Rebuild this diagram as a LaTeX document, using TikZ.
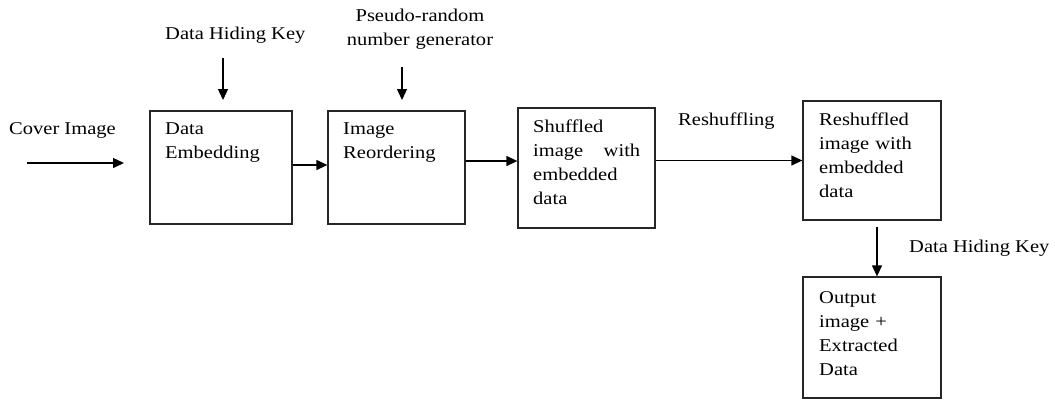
\documentclass[tikz,border=0pt]{standalone}
\usepackage{fontspec}
\setmainfont{Liberation Serif}[FakeStretch=1.14]
\usetikzlibrary{arrows.meta}
\begin{document}
\begin{tikzpicture}[x=1pt,y=-1pt,
  boxnode/.style={draw=black!85, line width=1.3pt, inner sep=0pt, rectangle},
  txt/.style={inner sep=0pt, font=\fontsize{18}{24}\selectfont, text=black},
  btxt/.style={txt, anchor=base west, align=left},
  arr/.style={line width=1.3pt, -{Triangle[length=11pt,width=10pt]}}]
\useasboundingbox (0,0) rectangle (1055,400);
% boxes
\node[boxnode, minimum width=142pt, minimum height=113pt] (b1) at (221,167.5) {};
\node[boxnode, minimum width=137pt, minimum height=113pt] (b2) at (396.5,167.5) {};
\node[boxnode, minimum width=137pt, minimum height=120pt] (b3) at (586.5,168) {};
\node[boxnode, minimum width=138pt, minimum height=119pt] (b4) at (872,160.5) {};
\node[boxnode, minimum width=138pt, minimum height=121pt] (b5) at (872,337.5) {};
% box texts
\node[btxt, text width=120pt] (t1) at (165,134) {Data\\Embedding};
\node[btxt, text width=120pt] (t2) at (343,134) {Image\\Reordering};
\node[btxt, text width=107pt] (t3) at (533,132) {Shuffled\\image\hfill with\\embedded\\data};
\node[btxt, text width=120pt] (t4) at (819,125) {Reshuffled\\image with\\embedded\\data};
\node[btxt, text width=120pt] (t5) at (819,303) {Output\\image +\\Extracted\\Data};
% labels
\node[txt, anchor=base west] (lcover) at (9,134) {Cover Image};
\node[txt, anchor=base west] (lkey1) at (165,39) {Data Hiding Key};
\node[txt, anchor=base, text width=170pt, align=center] (lprng) at (420,21) {Pseudo-random\\number generator};
\node[txt, anchor=base west] (lresh) at (678,125) {Reshuffling};
\node[txt, anchor=base west] (lkey2) at (909,252) {Data Hiding Key};
% free ends
\coordinate (cin) at (27,163);
\coordinate (cinend) at (124,163);
\coordinate (k1s) at (223,58);
\coordinate (k1e) at (223,100);
\coordinate (ps) at (402,67);
\coordinate (pe) at (402,100);
% connectors
\draw[arr] (cin) -- (cinend);
\draw[arr] (k1s) -- (k1e);
\draw[arr] (ps) -- (pe);
\draw[arr] (b1.east |- 0,165) -- (b2.west |- 0,165);
\draw[arr] (b2.east |- 0,161) -- (b3.west |- 0,161);
\draw[arr] (b3.east |- 0,160.5) -- (b4.west |- 0,160.5);
\draw[arr] ([yshift=-6pt]b4.south -| 877,0) -- (b5.north -| 877,0);
\end{tikzpicture}
\end{document}
